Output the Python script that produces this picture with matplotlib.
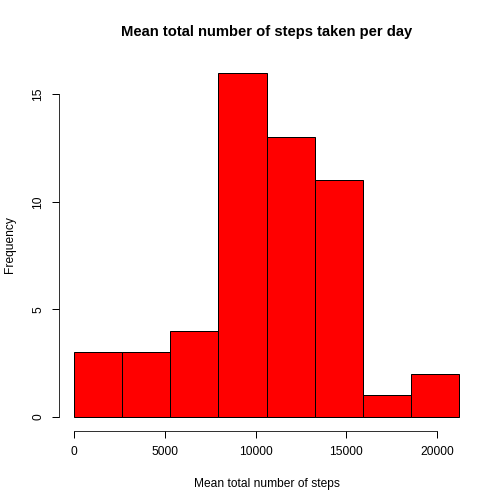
import matplotlib
matplotlib.use("Agg")
import matplotlib.pyplot as plt
import numpy as np

# histogram of daily step totals
bin_edges = [0, 2649, 5299, 7948, 10597, 13246, 15896, 18545, 21194]
counts = [3, 3, 4, 16, 13, 11, 1, 2]
x_ticks = [0, 5000, 10000, 15000, 20000]
y_ticks = [0, 5, 10, 15]

plt.rcParams['font.family'] = ['Liberation Sans', 'DejaVu Sans']

fig = plt.figure(figsize=(7, 7), dpi=72)
ax = fig.add_axes([59 / 504, 73.4 / 504, 415 / 504, 371.6 / 504])

edges = np.array(bin_edges)
ax.bar(edges[:-1], counts, width=np.diff(edges), align='edge',
       color='#ff0000', edgecolor='black', linewidth=1)

span = edges[-1] - edges[0]
ax.set_xlim(edges[0] - 0.04 * span, edges[-1] + 0.04 * span)
ax.set_ylim(-0.04 * max(counts), max(counts) * 1.04)

for s in ['top', 'right']:
    ax.spines[s].set_visible(False)
ax.spines['left'].set_bounds(y_ticks[0], y_ticks[-1])
ax.spines['bottom'].set_bounds(x_ticks[0], x_ticks[-1])

ax.set_xticks(x_ticks)
ax.set_yticks(y_ticks)
ax.set_yticklabels([str(v) for v in y_ticks], rotation=90, va='center')
ax.tick_params(direction='out', length=7, width=1, labelsize=12, pad=8)

ax.set_title('Mean total number of steps taken per day', fontsize=14.8,
             fontweight='bold', pad=23)
ax.set_xlabel('Mean total number of steps', fontsize=12, labelpad=20)
ax.set_ylabel('Frequency', fontsize=12, labelpad=16)

fig.savefig('out.png', dpi=72)
